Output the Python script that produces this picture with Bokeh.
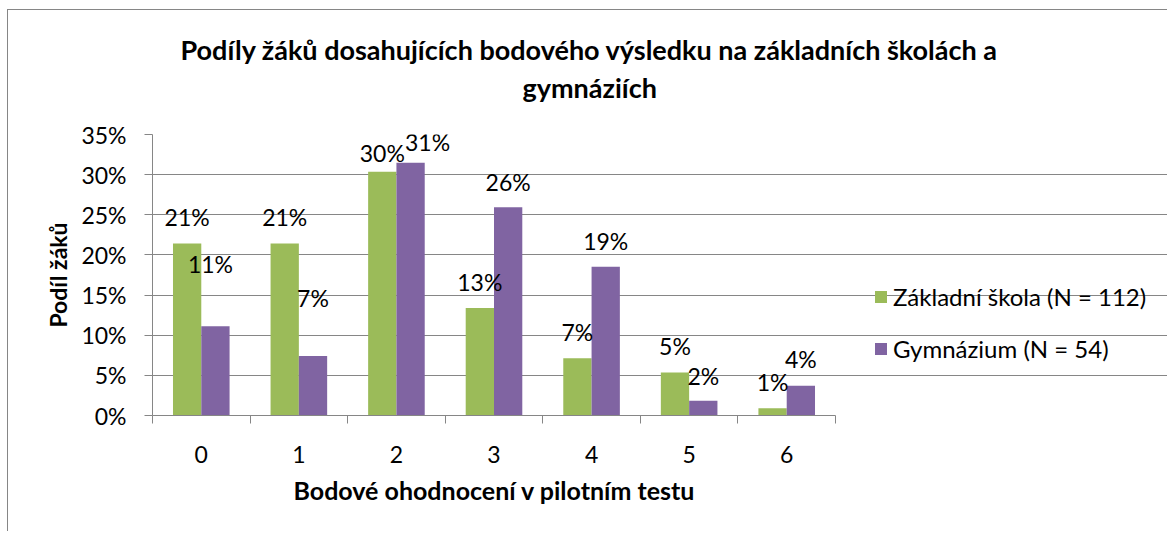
from bokeh.plotting import figure
from bokeh.models import (ColumnDataSource, FixedTicker, PrintfTickFormatter, Legend,
                          LegendItem, Title, LabelSet)
from bokeh.core.properties import value
from bokeh.embed import file_html
from bokeh.resources import INLINE

# ---- data ----
categories = ["0", "1", "2", "3", "4", "5", "6"]
zakladni_skola = [21.43, 21.43, 30.36, 13.39, 7.14, 5.36, 0.89]   # % of pupils, N = 112
gymnazium = [11.11, 7.41, 31.48, 25.93, 18.52, 1.85, 3.70]        # % of pupils, N = 54
series_names = ["Základní škola (N = 112)", "Gymnázium (N = 54)"]
y_ticks = [0, 5, 10, 15, 20, 25, 30, 35]
title_lines = ["Podíly žáků dosahujících bodového výsledku na základních školách a", "gymnáziích"]
x_title = "Bodové ohodnocení v pilotním testu"
y_title = "Podíl žáků"

# ---- style / layout ----
GREEN = "#9BBB59"
PURPLE = "#8064A2"
GRAY = "#868686"
FONT = "Lato"
FS = "23px"
BAR_W = 0.29
W, H = 1160, 522
BORDER_L, BORDER_T, BORDER_B = 144, 124, 117
AXIS_PX = 683            # pixel width of the category axis (legend sits to its right)
FRAME_PX = W - BORDER_L  # frame spans to the right edge of the canvas
# label placement (pixels above bar top / horizontal nudge), as in the reference
zs_lift = [26, 26, 19, 26, 26, 26, 26]
gym_lift = [62, 58, 21, 25, 26, 25, 27]
gym_dx = [-5, 0, 17, 0, 0, 0, 0]

n = len(categories)
centers = [i + 0.5 for i in range(n)]
x_end = n * FRAME_PX / AXIS_PX

src_z = ColumnDataSource(dict(
    x=[c - BAR_W / 2 for c in centers], top=zakladni_skola,
    lab=[f"{round(v)}%" for v in zakladni_skola], dy=zs_lift, dx=[0] * n))
src_g = ColumnDataSource(dict(
    x=[c + BAR_W / 2 for c in centers], top=gymnazium,
    lab=[f"{round(v)}%" for v in gymnazium], dy=gym_lift, dx=gym_dx))

p = figure(width=W, height=H, x_range=(0, x_end), y_range=(0, 35),
           output_backend="svg", toolbar_location=None, title=None,
           min_border_left=BORDER_L, min_border_right=0, min_border_top=BORDER_T,
           min_border_bottom=BORDER_B)
p.margin = (9, 0, 0, 7)
p.styles = {"border-left": f"1px solid {GRAY}", "border-top": f"1px solid {GRAY}"}
p.outline_line_color = None
p.background_fill_color = "white"
p.border_fill_color = "white"

r1 = p.vbar(x="x", top="top", width=BAR_W, source=src_z, fill_color=GREEN, line_color=None)
r2 = p.vbar(x="x", top="top", width=BAR_W, source=src_g, fill_color=PURPLE, line_color=None)

for src in (src_z, src_g):
    p.add_layout(LabelSet(x="x", y="top", text="lab", source=src, x_offset="dx", y_offset="dy",
                          text_align="center", text_baseline="middle",
                          text_font=value(FONT), text_font_size=value(FS),
                          text_color="black"))

# y axis
p.yaxis.ticker = FixedTicker(ticks=y_ticks)
p.yaxis.formatter = PrintfTickFormatter(format="%d%%")
p.yaxis.axis_line_color = GRAY
p.yaxis.major_tick_line_color = GRAY
p.yaxis.major_tick_out = 8
p.yaxis.major_tick_in = 0
p.yaxis.minor_tick_line_color = None
p.yaxis.major_label_text_font = FONT
p.yaxis.major_label_text_font_size = FS
p.yaxis.major_label_text_color = "black"
p.yaxis.major_label_standoff = 18
p.yaxis.axis_label = y_title
p.yaxis.axis_label_text_font = FONT
p.yaxis.axis_label_text_font_size = FS
p.yaxis.axis_label_text_font_style = "bold"
p.yaxis.axis_label_text_color = "black"
p.yaxis.axis_label_standoff = 6

# x axis: labels at category centres, ticks at category boundaries
p.xaxis.ticker = FixedTicker(ticks=centers, minor_ticks=list(range(n + 1)))
p.xaxis.major_label_overrides = {c: lab for c, lab in zip(centers, categories)}
p.xaxis.bounds = (0, n)
p.xaxis.axis_line_color = GRAY
p.xaxis.major_tick_line_color = None
p.xaxis.major_tick_out = 0
p.xaxis.major_tick_in = 0
p.xaxis.minor_tick_line_color = GRAY
p.xaxis.minor_tick_out = 8
p.xaxis.minor_tick_in = 0
p.xaxis.major_label_text_font = FONT
p.xaxis.major_label_text_font_size = FS
p.xaxis.major_label_text_color = "black"
p.xaxis.major_label_standoff = 22

# x-axis title, centred under the category axis (not under the whole frame)
p.add_layout(Title(text=x_title, align="left", offset=141, standoff=14,
                   text_font=FONT, text_font_size="25px", text_font_style="bold",
                   text_color="black"), "below")

p.xgrid.grid_line_color = None
p.ygrid.ticker = FixedTicker(ticks=y_ticks)
p.ygrid.bounds = (0, n)
p.ygrid.grid_line_color = GRAY

# titles (second line first: later-added titles sit further from the plot)
t2 = Title(text=title_lines[1], align="left", offset=370, standoff=62,
           text_font=FONT, text_font_size="27px", text_font_style="bold", text_color="black")
t1 = Title(text=title_lines[0], align="left", offset=28, standoff=-56,
           text_font=FONT, text_font_size="27px", text_font_style="bold", text_color="black")
p.add_layout(t2, "above")
p.add_layout(t1, "above")

legend = Legend(items=[LegendItem(label=series_names[0], renderers=[r1]),
                       LegendItem(label=series_names[1], renderers=[r2])],
                location=(721, 52), orientation="vertical",
                label_text_font=FONT, label_text_font_size="24px", label_text_color="black",
                glyph_width=15, glyph_height=15, label_standoff=5, label_height=28,
                spacing=23, padding=0, margin=0, border_line_color=None,
                background_fill_alpha=0)
p.add_layout(legend, "center")

open("out.html", "w").write(file_html(p, INLINE))
